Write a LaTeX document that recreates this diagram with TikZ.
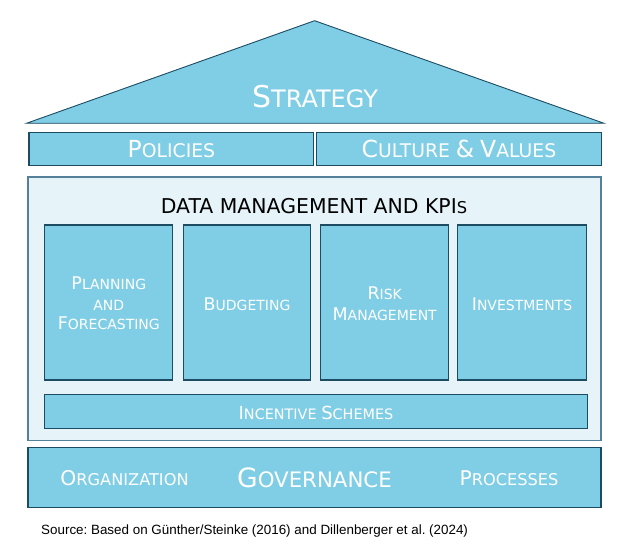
\documentclass[tikz,border=0pt]{standalone}
\usepackage{fontspec}
\setmainfont{DejaVu Sans}
\newfontfamily\srcfont{Liberation Sans}
\definecolor{boxfill}{HTML}{80CEE6}
\definecolor{boxline}{HTML}{1D4B61}
\definecolor{dmfill}{HTML}{E6F4FA}
\definecolor{dmline}{HTML}{55809A}
\newcommand\fsc[4]{{\fontsize{#1}{#1}\selectfont #3}{\fontsize{#2}{#2}\selectfont #4}}
\tikzset{
  blk/.style={draw=boxline, line width=1.1pt, fill=boxfill},
  lbl/.style={text=white, anchor=base, inner sep=0pt, align=center},
}
\begin{document}
\begin{tikzpicture}[x=1pt,y=-1pt]
\useasboundingbox (0,0) rectangle (635,556);
% roof
\draw[blk, line width=0.9pt, line join=miter] (26.5,123.3) -- (314.6,20.7) -- (604,123.3) -- cycle;
\node[lbl] (strategy) at (315,108) {\fsc{30}{24}{S}{TRATEGY}};
% policies and culture
\draw[blk] (29,132.3) rectangle (313.8,165.7);
\node[lbl] (policies) at (171.4,158) {\fsc{23.5}{18.8}{P}{OLICIES}};
\draw[blk] (316.9,132.3) rectangle (601.2,165.7);
\node[lbl] (culture) at (459,158) {\fsc{23.5}{18.8}{C}{ULTURE}\fsc{18.8}{18.8}{}{ }\fsc{23.5}{18.8}{\&}{}\fsc{18.8}{18.8}{}{ }\fsc{23.5}{18.8}{V}{ALUES}};
% data management
\draw[draw=dmline, line width=1.1pt, fill=dmfill] (28,177) rectangle (601,440.7);
\node[anchor=base, inner sep=0pt, text=black] (dm) at (314,213.3) {\fsc{20.4}{16.3}{DATA MANAGEMENT AND KPI}{S}};
\draw[blk] (44.9,225) rectangle (172.8,380);
\draw[blk] (183.2,225) rectangle (310.8,380);
\draw[blk] (320.7,225) rectangle (448.7,380);
\draw[blk] (457.9,225) rectangle (586.2,380);
\node[lbl] (plan1) at (108.8,290) {\fsc{17.5}{14}{P}{LANNING}};
\node[lbl] (plan2) at (108.8,310) {\fsc{17.5}{14}{}{AND}};
\node[lbl] (plan3) at (108.8,330) {\fsc{17.5}{14}{F}{ORECASTING}};
\node[lbl] (budget) at (247,310) {\fsc{17.5}{14}{B}{UDGETING}};
\node[lbl] (risk1) at (384.7,299.3) {\fsc{17.5}{14}{R}{ISK}};
\node[lbl] (risk2) at (384.7,320.7) {\fsc{17.5}{14}{M}{ANAGEMENT}};
\node[lbl] (invest) at (522,310) {\fsc{17.5}{14}{I}{NVESTMENTS}};
\draw[blk] (44.9,394.3) rectangle (587.4,428.3);
\node[lbl] (incent) at (316,419) {\fsc{18}{14.4}{I}{NCENTIVE}\fsc{14.4}{14.4}{}{ }\fsc{18}{14.4}{S}{CHEMES}};
% governance
\draw[blk] (28,447.3) rectangle (601,507.7);
\node[lbl] (org) at (124.5,485.7) {\fsc{20.3}{16.2}{O}{RGANIZATION}};
\node[lbl] (gov) at (314.5,487.7) {\fsc{26.6}{21.3}{G}{OVERNANCE}};
\node[lbl] (proc) at (509,485.7) {\fsc{20.3}{16.2}{P}{ROCESSES}};
% source
\node[anchor=base west, inner sep=0pt, text=black, font=\srcfont\fontsize{13.4}{16}\selectfont\frenchspacing] (src) at (41,534.3) {Source: Based on Günther/Steinke (2016) and Dillenberger et al. (2024)};
\end{tikzpicture}
\end{document}
